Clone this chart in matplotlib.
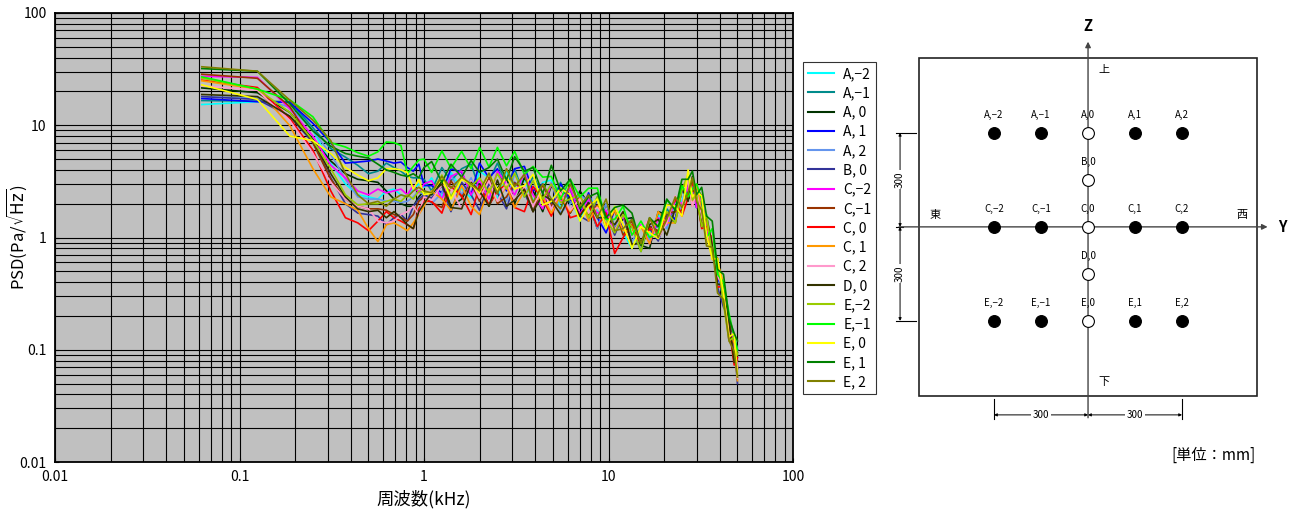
import matplotlib
matplotlib.use('Agg')
import matplotlib.pyplot as plt
from matplotlib.patches import Rectangle
from matplotlib.ticker import NullFormatter

plt.rcParams['font.family'] = ['Noto Sans CJK JP', 'DejaVu Sans']
plt.rcParams['axes.unicode_minus'] = True

# frequency (kHz)
freq_low = [0.0625, 0.125, 0.1875, 0.25, 0.3125, 0.375, 0.4375, 0.5, 0.5625, 0.625,
            0.6875, 0.75, 0.8125, 0.875, 0.9375, 1.0]
freq_high = [1.1, 1.25, 1.4, 1.6, 1.8, 2.0, 2.25, 2.5, 2.8, 3.1, 3.5, 3.9, 4.4, 4.9, 5.5,
             6.2, 7.0, 7.8, 8.7, 9.7, 10.8, 12.0, 13.4, 15.0, 16.7, 18.6, 20.7, 23.0, 25.0,
             27.0, 28.5, 30.0, 32.0, 34.0, 36.5, 39.0, 42.0, 45.0, 48.0, 50.0]
freq = freq_low + freq_high

# PSD (Pa/sqrt(Hz)) per measuring point
a_m2 = [15.3, 16.2, 16.0, 9.0, 4.6, 3.0, 2.4, 2.3, 2.2, 2.6, 2.7, 2.4, 2.3, 2.7, 3.0, 2.8,
        3.4, 2.3, 3.8, 2.7, 2.25, 3.9, 3.4, 2.2, 3.9, 2.85, 3.3, 2.1, 3.1, 3.25, 1.85, 2.3,
        1.4, 2.4, 1.75, 1.3, 1.9, 1.1, 0.8, 1.25, 1.0, 1.6, 1.2, 2.1, 2.1, 3.1, 2.2, 2.8,
        1.6, 1.6, 0.68, 0.58, 0.26, 0.2, 0.1, 0.075]
a_m1 = [16.6, 16.4, 16.2, 9.5, 6.2, 5.2, 4.4, 3.7, 3.9, 4.6, 4.2, 3.9, 3.5, 3.4, 3.4, 3.3,
        2.6, 4.2, 3.2, 4.1, 4.5, 2.7, 3.2, 4.6, 2.9, 4.1, 2.3, 3.5, 2.5, 2.0, 3.1, 2.0,
        2.4, 1.5, 2.3, 1.2, 1.3, 1.55, 1.25, 0.75, 1.4, 1.1, 1.8, 1.45, 2.6, 2.4, 3.1, 1.85,
        2.15, 1.05, 1.0, 0.43, 0.35, 0.15, 0.12, 0.07]
a_0 = [21.5, 19.5, 13.0, 7.5, 4.8, 3.7, 3.3, 3.2, 3.1, 2.6, 2.2, 2.0, 1.9, 1.9, 2.3, 2.6,
       2.4, 3.2, 1.9, 2.2, 3.1, 3.0, 1.9, 2.75, 3.4, 2.0, 3.4, 2.6, 1.7, 2.9, 2.25, 1.65,
       2.6, 2.0, 1.2, 2.0, 1.25, 1.45, 1.5, 0.85, 0.8, 1.7, 1.6, 1.35, 2.9, 2.2, 2.4, 2.6,
       1.35, 1.4, 0.85, 0.4, 0.36, 0.145, 0.125, 0.068]
a_p1 = [17.3, 16.2, 16.0, 10.4, 7.0, 4.6, 4.7, 4.8, 5.0, 4.8, 4.6, 4.7, 4.2, 3.9, 4.5, 2.9,
        2.9, 2.5, 4.1, 3.8, 2.4, 4.6, 3.4, 4.1, 2.6, 4.1, 4.3, 2.6, 3.0, 1.9, 3.0, 2.2,
        1.6, 2.5, 1.5, 1.1, 1.75, 1.2, 1.45, 0.85, 1.25, 1.25, 1.65, 1.45, 2.6, 2.5, 3.4, 1.85,
        2.05, 1.1, 1.0, 0.45, 0.3, 0.2, 0.09, 0.1]
a_p2 = [17.9, 17.5, 14.5, 9.0, 5.5, 3.3, 2.3, 2.2, 2.2, 2.1, 2.1, 2.05, 2.1, 2.3, 2.6, 2.4,
        2.0, 2.5, 3.6, 2.4, 3.4, 2.1, 3.2, 2.5, 2.1, 3.7, 2.5, 3.2, 2.0, 3.1, 1.65, 2.0,
        2.4, 2.1, 1.2, 2.0, 1.25, 1.55, 0.92, 1.25, 0.95, 1.5, 1.2, 2.15, 1.75, 3.35, 2.3, 2.65,
        1.6, 1.45, 0.8, 0.4, 0.37, 0.16, 0.13, 0.1]
b_0 = [18.0, 17.0, 12.0, 7.0, 3.4, 2.0, 1.65, 1.6, 1.55, 1.3, 1.5, 1.6, 1.4, 1.9, 2.2, 2.4,
       2.25, 2.9, 1.7, 3.1, 2.4, 1.75, 3.0, 2.5, 1.8, 3.1, 2.5, 1.7, 2.9, 1.95, 2.35, 2.7,
       1.55, 1.4, 2.2, 1.65, 1.05, 1.6, 0.87, 0.9, 1.2, 0.93, 1.55, 1.7, 1.65, 3.2, 2.2, 2.5,
       1.55, 1.25, 1.05, 0.36, 0.24, 0.19, 0.115, 0.05]
c_m2 = [27.3, 26.7, 14.0, 8.0, 4.4, 3.4, 2.6, 2.4, 2.7, 2.5, 2.6, 2.7, 2.4, 2.9, 2.5, 3.0,
        3.2, 2.2, 3.5, 3.9, 2.4, 3.25, 2.2, 3.9, 3.0, 2.4, 3.75, 2.4, 1.8, 3.0, 2.05, 2.75,
        1.6, 2.2, 1.65, 1.75, 1.15, 1.55, 1.05, 1.3, 0.88, 1.5, 1.3, 2.15, 2.0, 2.8, 3.25, 1.85,
        2.35, 1.15, 0.65, 0.62, 0.33, 0.12, 0.14, 0.07]
c_m1 = [28.5, 26.2, 14.6, 7.0, 3.3, 2.2, 1.9, 1.8, 1.8, 1.75, 1.6, 1.5, 1.4, 1.6, 2.1, 2.3,
        2.05, 1.85, 3.2, 2.3, 3.05, 2.1, 3.45, 2.0, 2.3, 3.05, 2.7, 1.7, 2.9, 1.9, 2.5, 1.65,
        2.3, 1.55, 1.95, 1.25, 1.75, 1.05, 1.4, 0.9, 1.25, 1.15, 1.65, 1.7, 1.75, 3.5, 2.55, 2.75,
        2.35, 0.98, 0.77, 0.65, 0.26, 0.2, 0.077, 0.08]
c_0 = [25.2, 21.7, 11.5, 6.0, 2.6, 1.5, 1.35, 1.15, 1.4, 1.7, 1.5, 1.4, 1.3, 1.2, 1.8, 2.1,
       2.1, 1.65, 2.85, 2.35, 1.6, 2.9, 1.95, 2.6, 3.0, 1.85, 1.7, 2.85, 2.2, 1.55, 2.55, 1.5,
       1.6, 2.0, 1.25, 1.65, 0.72, 1.0, 1.3, 0.85, 1.2, 1.1, 1.45, 2.2, 1.55, 2.25, 3.1, 2.4,
       1.2, 1.25, 1.0, 0.36, 0.37, 0.16, 0.073, 0.085]
c_p1 = [24.9, 21.0, 9.9, 4.1, 2.3, 2.0, 1.75, 1.2, 0.92, 1.3, 1.35, 1.25, 1.15, 1.35, 1.6, 1.9,
        2.6, 2.2, 1.75, 2.9, 1.9, 1.6, 2.75, 2.1, 2.9, 1.85, 2.6, 2.1, 2.3, 1.65, 2.35, 1.7,
        2.25, 1.4, 1.9, 1.3, 1.75, 1.15, 1.15, 1.25, 0.88, 1.7, 1.35, 1.35, 2.75, 3.1, 1.9, 3.0,
        1.7, 1.5, 0.64, 0.6, 0.39, 0.14, 0.115, 0.053]
c_p2 = [22.5, 20.5, 11.0, 5.6, 3.1, 2.2, 1.9, 1.8, 1.4, 1.35, 1.4, 1.6, 1.7, 1.9, 1.6, 2.3,
        2.15, 2.95, 2.7, 1.8, 3.2, 2.25, 3.2, 2.1, 3.05, 2.15, 2.8, 1.9, 2.75, 1.8, 2.5, 1.75,
        2.2, 1.65, 1.85, 1.45, 1.15, 1.6, 1.1, 1.25, 1.45, 0.98, 1.35, 2.35, 1.85, 3.35, 1.9, 2.55,
        1.55, 0.98, 1.1, 0.45, 0.36, 0.14, 0.14, 0.056]
d_0 = [18.8, 18.0, 12.0, 7.3, 3.7, 2.3, 1.8, 1.7, 1.75, 1.5, 1.7, 1.5, 1.3, 1.2, 1.7, 2.0,
       2.5, 3.0, 1.85, 1.8, 3.1, 2.6, 1.9, 3.25, 1.9, 2.15, 2.7, 1.7, 2.4, 2.15, 1.6, 2.35,
       1.55, 2.05, 1.5, 1.5, 1.3, 1.7, 0.86, 0.9, 1.3, 1.45, 1.05, 1.8, 2.75, 2.1, 3.5, 2.3,
       1.25, 1.55, 0.85, 0.38, 0.39, 0.18, 0.077, 0.094]
e_m2 = [26.3, 21.0, 13.0, 7.3, 4.1, 2.4, 1.95, 2.0, 2.0, 2.1, 2.2, 2.1, 2.4, 2.2, 2.6, 2.5,
        2.5, 3.6, 2.3, 3.45, 2.85, 3.4, 2.5, 3.7, 2.7, 3.75, 2.3, 3.2, 2.2, 3.0, 2.05, 2.2,
        2.4, 1.5, 2.3, 1.45, 1.1, 1.6, 1.25, 0.75, 1.45, 1.25, 1.7, 1.35, 2.65, 3.65, 2.15, 2.4,
        1.25, 1.6, 0.68, 0.65, 0.26, 0.12, 0.13, 0.09]
e_m1 = [27.0, 21.0, 16.8, 11.9, 7.0, 6.4, 5.7, 5.3, 5.8, 7.1, 7.0, 6.6, 3.7, 4.3, 4.9, 5.0,
        3.8, 5.9, 4.15, 5.85, 4.1, 6.35, 4.25, 6.35, 4.35, 5.85, 3.65, 4.3, 3.45, 3.5, 2.2, 3.3,
        2.3, 2.75, 2.75, 1.45, 1.45, 1.9, 1.05, 1.4, 1.0, 1.1, 2.15, 1.8, 2.9, 2.3, 2.7, 3.0,
        2.2, 1.0, 1.2, 0.47, 0.4, 0.21, 0.13, 0.1]
e_0 = [22.9, 17.0, 8.0, 7.3, 5.6, 4.2, 3.6, 3.2, 3.4, 4.1, 4.1, 4.0, 3.8, 2.7, 3.3, 2.4,
       2.5, 3.35, 2.2, 3.3, 3.0, 2.5, 3.7, 2.65, 3.45, 2.7, 2.9, 3.65, 1.95, 2.1, 2.75, 2.4,
       1.4, 1.9, 2.2, 1.2, 1.9, 1.3, 0.8, 1.25, 1.1, 0.98, 1.95, 1.9, 1.55, 4.0, 2.3, 2.55,
       2.35, 1.05, 0.64, 0.65, 0.32, 0.13, 0.14, 0.06]
e_p1 = [32.0, 30.3, 15.5, 8.9, 6.5, 5.6, 5.3, 5.1, 4.5, 4.0, 3.8, 3.6, 3.5, 3.7, 3.4, 4.2,
        4.75, 3.1, 4.5, 3.45, 4.85, 3.8, 4.2, 5.0, 3.25, 5.25, 3.9, 4.2, 2.45, 4.4, 2.6, 3.3,
        1.8, 2.3, 2.5, 1.5, 1.85, 1.95, 1.65, 0.85, 1.5, 1.25, 2.2, 1.75, 3.3, 3.3, 3.9, 2.4,
        2.8, 1.55, 1.4, 0.52, 0.47, 0.19, 0.14, 0.12]
e_p2 = [33.2, 30.3, 16.7, 11.1, 7.3, 3.7, 2.4, 2.0, 2.1, 1.9, 2.2, 2.4, 2.3, 2.6, 2.8, 2.6,
        2.5, 3.5, 2.75, 3.45, 3.0, 2.6, 3.75, 2.45, 4.1, 2.85, 3.65, 2.05, 3.0, 2.2, 1.8, 3.0,
        1.9, 2.4, 1.5, 2.2, 1.15, 1.2, 1.45, 0.88, 1.5, 1.0, 1.45, 2.3, 1.85, 2.5, 3.4, 2.1,
        1.75, 0.84, 0.82, 0.32, 0.28, 0.12, 0.097, 0.057]

M = '\u2212'
labels = ['A,' + M + '2', 'A,' + M + '1', 'A, 0', 'A, 1', 'A, 2', 'B, 0',
          'C,' + M + '2', 'C,' + M + '1', 'C, 0', 'C, 1', 'C, 2', 'D, 0',
          'E,' + M + '2', 'E,' + M + '1', 'E, 0', 'E, 1', 'E, 2']
series = [a_m2, a_m1, a_0, a_p1, a_p2, b_0, c_m2, c_m1, c_0, c_p1, c_p2, d_0,
          e_m2, e_m1, e_0, e_p1, e_p2]
colors = ['#00FFFF', '#008B8B', '#003300', '#0000FF', '#6495ED', '#333399',
          '#FF00FF', '#993300', '#FF0000', '#FF9900', '#FF99CC', '#333300',
          '#99CC00', '#00FF00', '#FFFF00', '#008000', '#808000']

# measuring point layout (mm)
pt_cols = [-300, -150, 0, 150, 300]
full_rows = ['A', 'C', 'E']
center_rows = ['B', 'D']
row_z = {'A': 300, 'B': 150, 'C': 0, 'D': -150, 'E': -300}
half_box = 540

W, H = 1292, 523
fig = plt.figure(figsize=(W / 100, H / 100), dpi=100)
ax = fig.add_axes([55 / W, 61 / H, 738 / W, 449 / H])
ax.set_facecolor('#C0C0C0')

lines = []
for vals, lab, col in zip(series, labels, colors):
    ln, = ax.plot(freq, vals, color=col, lw=1.2, label=lab)
    lines.append(ln)

ax.set_xscale('log')
ax.set_yscale('log')
ax.set_xlim(0.01, 100)
ax.set_ylim(0.01, 100)
decs = [0.01, 0.1, 1, 10, 100]
ax.set_xticks(decs, ['0.01', '0.1', '1', '10', '100'])
ax.set_yticks(decs, ['0.01', '0.1', '1', '10', '100'])
ax.xaxis.set_minor_formatter(NullFormatter())
ax.yaxis.set_minor_formatter(NullFormatter())
ax.grid(True, which='both', color='black', lw=0.8)
ax.set_axisbelow(True)
ax.tick_params(which='major', direction='in', length=3, labelsize=10, pad=6)
ax.tick_params(which='minor', length=0)
for sp in ax.spines.values():
    sp.set_linewidth(1.3)
    sp.set_color('black')
ax.set_xlabel('周波数(kHz)', fontsize=12.5, labelpad=4)
ax.set_ylabel(r'PSD(Pa/$\sqrt{\mathrm{Hz}}$)', fontsize=12)
ax.yaxis.set_label_coords(-0.035, 0.5)

leg = fig.legend(lines, labels, loc='upper left', bbox_to_anchor=(803 / W, 1 - 62 / H),
                 frameon=True, fancybox=False, edgecolor='black', fontsize=10,
                 handlelength=1.9, handletextpad=0.65, borderpad=0.35, labelspacing=0.38,
                 borderaxespad=0)
leg.get_frame().set_linewidth(0.8)
for h in leg.get_lines():
    h.set_linewidth(1.5)

# layout diagram
ax2 = fig.add_axes([880 / W, 0, 412 / W, 1])
ax2.set_xlim(-664, 651)
ax2.set_ylim(-945, 724)
ax2.axis('off')

ax2.add_patch(Rectangle((-half_box, -half_box), 2 * half_box, 2 * half_box,
                        fill=False, edgecolor='#222222', lw=1.2))
ax2.annotate('', xy=(0, 600), xytext=(0, -618),
             arrowprops=dict(arrowstyle='-|>', color='#444444', lw=1.0, mutation_scale=8))
ax2.annotate('', xy=(582, 0), xytext=(-612, 0),
             arrowprops=dict(arrowstyle='-|>', color='#444444', lw=1.0, mutation_scale=8))
ax2.text(0, 640, 'Z', ha='center', va='center', fontsize=10.5, fontweight='bold')
ax2.text(620, 0, 'Y', ha='center', va='center', fontsize=10.5, fontweight='bold')
ax2.text(-488, 38, '東', ha='center', va='center', fontsize=8)
ax2.text(491, 38, '西', ha='center', va='center', fontsize=8)
ax2.text(51, 500, '上', ha='center', va='center', fontsize=8)
ax2.text(51, -495, '下', ha='center', va='center', fontsize=8)


def pt_label(r, c):
    n = c // 150
    return r + ',' + (M + str(-n) if n < 0 else str(n))


for r in full_rows + center_rows:
    cols = pt_cols if r in full_rows else [0]
    for c in cols:
        z = row_z[r]
        face = 'white' if c == 0 else 'black'
        ax2.plot(c, z, 'o', ms=8.5, mfc=face, mec='black', mew=0.8, zorder=5)
        ax2.text(c, z + 40, pt_label(r, c), ha='center', va='bottom', fontsize=7)

# dimension lines
dim_x = -600
for z0, z1 in [(0, 300), (0, -300)]:
    ax2.annotate('', xy=(dim_x, z1), xytext=(dim_x, z0),
                 arrowprops=dict(arrowstyle='<|-|>', lw=0.7, color='black', mutation_scale=4,
                                 shrinkA=0, shrinkB=0))
    ax2.text(dim_x, (z0 + z1) / 2, '300', rotation=90, ha='center', va='center', fontsize=7,
             bbox=dict(facecolor='white', edgecolor='none', pad=1))
for z in [300, -300]:
    ax2.plot([-612, -550], [z, z], color='black', lw=0.8)
ax2.plot([-612, -590], [0, 0], color='black', lw=0.8)

dim_z = -600
for x0, x1 in [(0, -300), (0, 300)]:
    ax2.annotate('', xy=(x1, dim_z), xytext=(x0, dim_z),
                 arrowprops=dict(arrowstyle='<|-|>', lw=0.7, color='black', mutation_scale=4,
                                 shrinkA=0, shrinkB=0))
    ax2.text((x0 + x1) / 2, dim_z, '300', ha='center', va='center', fontsize=7,
             bbox=dict(facecolor='white', edgecolor='none', pad=1))
for x in [-300, 300]:
    ax2.plot([x, x], [-550, -612], color='black', lw=0.8)

ax2.text(400, -728, '[単位：mm]', ha='center', va='center', fontsize=11)

fig.savefig('out.png', dpi=100)
